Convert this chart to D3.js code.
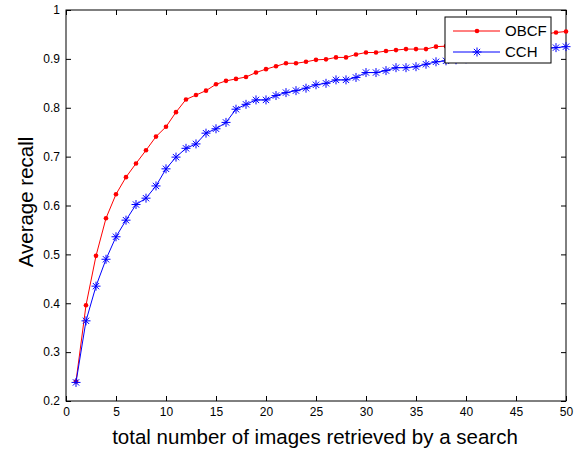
<!DOCTYPE html>
<html>
<head>
<meta charset="utf-8">
<script src="https://cdn.jsdelivr.net/npm/d3@7"></script>
<style>
  body { margin: 0; background: #fff; }
  svg { font-family: "Liberation Sans", Arial, Helvetica, sans-serif; }
</style>
</head>
<body>
<svg id="chart" width="576" height="449"></svg>
<script>
// number of images retrieved (1..50)
const retrieved = d3.range(1, 51)

const obcf = [
  0.240, 0.396, 0.497, 0.574, 0.623, 0.658, 0.686, 0.713, 0.741, 0.761,
  0.791, 0.817, 0.826, 0.835, 0.848, 0.855, 0.859, 0.863, 0.872, 0.879,
  0.885, 0.891, 0.891, 0.894, 0.898, 0.899, 0.903, 0.903, 0.909, 0.913,
  0.913, 0.916, 0.918, 0.920, 0.920, 0.920, 0.925, 0.926, 0.928, 0.930,
  0.932, 0.935, 0.938, 0.940, 0.943, 0.946, 0.949, 0.951, 0.954, 0.956
]

const cch = [
  0.238, 0.364, 0.435, 0.490, 0.536, 0.570, 0.602, 0.615, 0.640, 0.675,
  0.699, 0.717, 0.726, 0.748, 0.757, 0.770, 0.797, 0.807, 0.816, 0.816,
  0.825, 0.831, 0.835, 0.840, 0.847, 0.850, 0.857, 0.857, 0.862, 0.872,
  0.872, 0.876, 0.882, 0.882, 0.884, 0.889, 0.894, 0.896, 0.898, 0.900,
  0.903, 0.905, 0.908, 0.910, 0.913, 0.916, 0.918, 0.921, 0.923, 0.925
]

const xTicks = d3.range(0, 51, 5)
const yTicks = [0.2, 0.3, 0.4, 0.5, 0.6, 0.7, 0.8, 0.9, 1]

const plotL = 66, plotR = 566, plotT = 10, plotB = 401

const svg = d3.select('#chart')
const x = d3.scaleLinear().domain([0, 50]).range([plotL, plotR])
const y = d3.scaleLinear().domain([0.2, 1]).range([plotB, plotT])

const fmtY = d => (d === 1 ? '1' : d3.format('.1f')(d))

// axes with inward ticks, on all four sides
const axisStyle = g => {
  g.select('.domain').remove()
  g.selectAll('line').attr('stroke', '#000')
  g.selectAll('text').attr('fill', '#000').attr('font-size', 12)
}

svg.append('g')
  .attr('transform', `translate(0,${plotB})`)
  .call(d3.axisBottom(x).tickValues(xTicks).tickSizeInner(-5).tickSizeOuter(0).tickPadding(6))
  .call(axisStyle)

svg.append('g')
  .attr('transform', `translate(0,${plotT})`)
  .call(d3.axisTop(x).tickValues(xTicks).tickSizeInner(-5).tickSizeOuter(0).tickFormat(''))
  .call(axisStyle)

svg.append('g')
  .attr('transform', `translate(${plotL},0)`)
  .call(d3.axisLeft(y).tickValues(yTicks).tickSizeInner(-5).tickSizeOuter(0).tickPadding(6).tickFormat(fmtY))
  .call(axisStyle)

svg.append('g')
  .attr('transform', `translate(${plotR},0)`)
  .call(d3.axisRight(y).tickValues(yTicks).tickSizeInner(-5).tickSizeOuter(0).tickFormat(''))
  .call(axisStyle)

svg.append('rect')
  .attr('x', plotL).attr('y', plotT)
  .attr('width', plotR - plotL).attr('height', plotB - plotT)
  .attr('fill', 'none').attr('stroke', '#000').attr('stroke-width', 1)

// asterisk marker like matlab '*'
const star = r => {
  const d = r * 0.7
  return `M${-r},0L${r},0M0,${-r}L0,${r}M${-d},${-d}L${d},${d}M${-d},${d}L${d},${-d}`
}

const line = d3.line().x(d => x(d[0])).y(d => y(d[1]))

const series = [
  {name: 'OBCF', values: obcf, color: '#ff0000', marker: 'dot'},
  {name: 'CCH', values: cch, color: '#0000ff', marker: 'star'}
]

const drawMarker = (sel, s) => {
  if (s.marker === 'dot') {
    sel.append('circle').attr('r', 2.3).attr('fill', s.color)
  } else {
    sel.append('path').attr('d', star(4.5)).attr('stroke', s.color).attr('stroke-width', 1).attr('fill', 'none')
  }
}

series.forEach(s => {
  const pts = retrieved.map((r, i) => [r, s.values[i]])
  svg.append('path')
    .datum(pts)
    .attr('d', line)
    .attr('fill', 'none')
    .attr('stroke', s.color)
    .attr('stroke-width', 1)
  svg.append('g').selectAll('g')
    .data(pts)
    .join('g')
    .attr('transform', d => `translate(${x(d[0])},${y(d[1])})`)
    .each(function () { drawMarker(d3.select(this), s) })
})

// legend
const legend = svg.append('g').attr('transform', 'translate(445,17)')
legend.append('rect')
  .attr('width', 106).attr('height', 46)
  .attr('fill', '#fff').attr('stroke', '#000')
series.forEach((s, i) => {
  const row = legend.append('g').attr('transform', `translate(0,${14 + i * 21})`)
  row.append('line').attr('x1', 8).attr('x2', 55).attr('stroke', s.color)
  drawMarker(row.append('g').attr('transform', 'translate(32,0)'), s)
  row.append('text')
    .attr('x', 60).attr('dy', '0.36em')
    .attr('font-size', 15)
    .text(s.name)
})

// axis labels
svg.append('text')
  .attr('x', 315).attr('y', 444)
  .attr('text-anchor', 'middle')
  .attr('font-size', 20.5)
  .text('total number of images retrieved by a search')

svg.append('text')
  .attr('transform', 'translate(33,202) rotate(-90)')
  .attr('text-anchor', 'middle')
  .attr('font-size', 20.5)
  .text('Average recall')
</script>
</body>
</html>
